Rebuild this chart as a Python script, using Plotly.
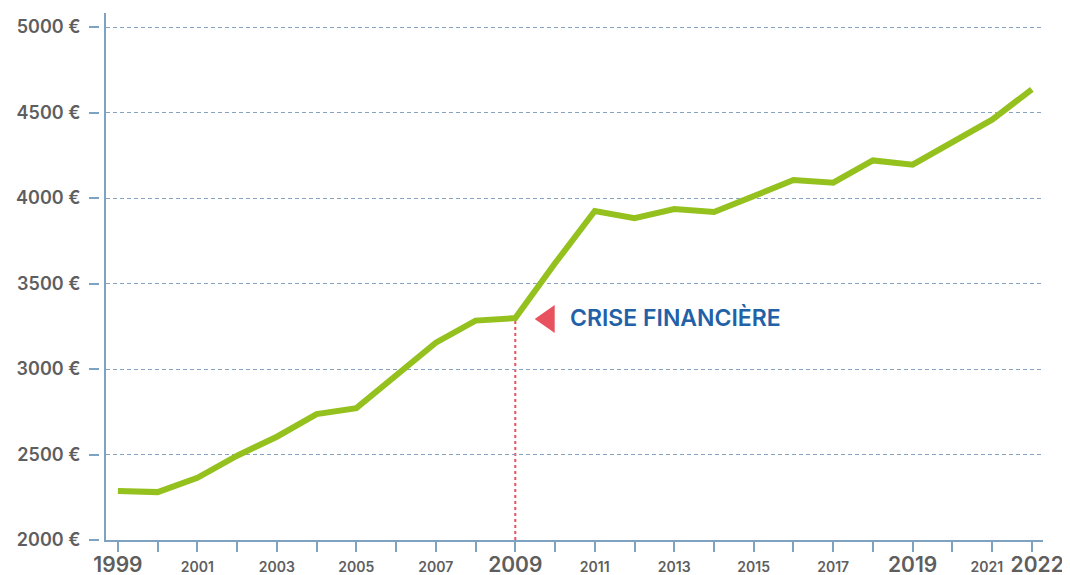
import plotly.graph_objects as go

years = list(range(1999, 2023))
values = [2287, 2280, 2364, 2493, 2604, 2736, 2771, 2960, 3154, 3283, 3298,
          3618, 3924, 3882, 3936, 3918, 4013, 4105, 4090, 4220, 4195, 4328,
          4458, 4636]

big_years = [1999, 2009, 2019, 2022]
small_years = [2001, 2003, 2005, 2007, 2011, 2013, 2015, 2017, 2021]
y_ticks = [2000, 2500, 3000, 3500, 4000, 4500, 5000]
y_labels = [f"{v} €" for v in y_ticks]
crisis_year = 2009
crisis_label = "CRISE FINANCIÈRE"

GREEN = "#95c11f"
AXIS = "#7ea2c2"
GRID = "#85a3c0"
GRAY = "#5e5e5e"
RED = "#e8525e"
BLUE = "#2361a7"
FONT = "Inter"

def xlabel(y):
    if y in big_years:
        pad = "&nbsp;&nbsp;" if y == years[-1] else ""
        return f'<span style="font-size:21px">{pad}{y}</span>'
    if y in small_years:
        pad = "&nbsp;&nbsp;&nbsp;" if y == years[-2] else ""
        return f"{y}{pad}"
    return ""

crisis_value = values[years.index(crisis_year)]

fig = go.Figure()
fig.add_trace(go.Scatter(x=years, y=values, mode="lines",
                         line=dict(color=GREEN, width=6),
                         hoverinfo="skip", showlegend=False))
# empty helper trace so the tick-only axis gets drawn
fig.add_trace(go.Scatter(x=[years[0]], y=[values[0]], yaxis="y2",
                         mode="lines", hoverinfo="skip", showlegend=False))

# red dotted vertical line at crisis
fig.add_shape(type="line", xref="x", yref="y",
              x0=crisis_year, x1=crisis_year, y0=2000, y1=crisis_value,
              line=dict(color=RED, width=2, dash="3px,3px"), layer="below")
# triangle pointer
fig.add_shape(type="path", xref="x", yref="y",
              xsizemode="pixel", ysizemode="pixel",
              xanchor=crisis_year + 0.74, yanchor=crisis_value,
              path="M -10,-1 L 10,-15 L 10,13 Z",
              fillcolor=RED, line=dict(width=0))
fig.add_annotation(x=crisis_year + 1.32, y=crisis_value, xref="x", yref="y",
                   text=crisis_label, showarrow=False, xanchor="left",
                   yanchor="middle",
                   font=dict(family=FONT, size=23, color=BLUE, weight=600))

W, H = 1062, 567
ml, mr, mt, mb = 91, 27, 5, 35
pw = W - ml - mr

fig.update_layout(
    width=W, height=H,
    margin=dict(l=ml, r=mr, t=mt, b=mb, autoexpand=False),
    plot_bgcolor="white", paper_bgcolor="white",
    font=dict(family=FONT, color=GRAY),
    xaxis=dict(domain=[7 / pw, 1], range=[1998.70, 2022.28],
               tickvals=years, ticktext=[xlabel(y) for y in years],
               tickangle=0,
               ticks="outside", ticklen=10, tickwidth=2, tickcolor=AXIS,
               showline=True, linecolor=AXIS, linewidth=2,
               showgrid=False, zeroline=False,
               tickfont=dict(family=FONT, size=14, color=GRAY, weight=600),
               ticklabelstandoff=3),
    yaxis=dict(range=[2000, 5082], tickvals=y_ticks, showticklabels=False,
               ticks="", showline=True, linecolor=AXIS, linewidth=2,
               showgrid=True, gridcolor=GRID, gridwidth=1.3,
               griddash="4px,3px", zeroline=False),
    yaxis2=dict(range=[2000, 5082], overlaying="y", anchor="free",
                position=0, side="left", tickvals=y_ticks, ticktext=y_labels,
                ticks="outside", ticklen=10, tickwidth=2, tickcolor=AXIS,
                showline=False, showgrid=False, zeroline=False,
                tickfont=dict(family=FONT, size=18, color=GRAY, weight=600),
                ticklabelstandoff=5),
)

fig.write_html("out.html")
